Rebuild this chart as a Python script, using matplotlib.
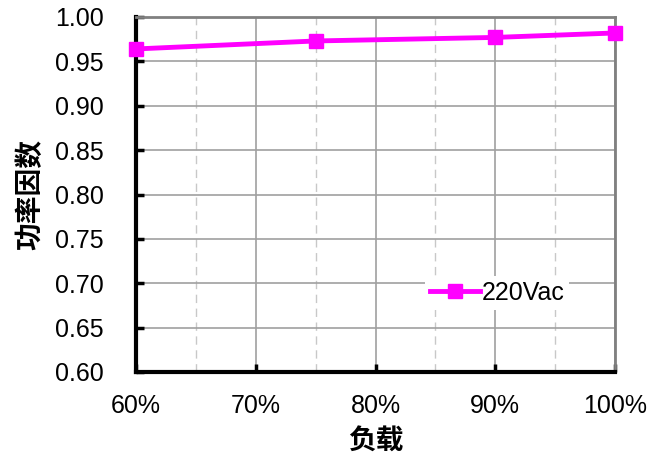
import matplotlib
matplotlib.use("Agg")
import matplotlib.pyplot as plt
from matplotlib.ticker import MultipleLocator, FuncFormatter

load = [60, 75, 90, 100]
pf_220 = [0.964, 0.973, 0.977, 0.982]
series_name = "220Vac"

plt.rcParams['font.family'] = ['Liberation Sans', 'Noto Sans CJK SC', 'DejaVu Sans']

fig = plt.figure(figsize=(6.49, 4.63), dpi=100)
ax = fig.add_axes([136/649, 1-372/463, (615-136)/649, (372-17)/463])

ax.plot(load, pf_220, color='#ff00ff', lw=3.5, marker='s', ms=10, label=series_name, clip_on=False, zorder=5)

ax.set_xlim(60, 100)
ax.set_ylim(0.60, 1.00)
ax.xaxis.set_major_locator(MultipleLocator(10))
ax.xaxis.set_minor_locator(MultipleLocator(5))
ax.yaxis.set_major_locator(MultipleLocator(0.05))
ax.xaxis.set_major_formatter(FuncFormatter(lambda v, p: f"{v:.0f}%"))
ax.yaxis.set_major_formatter(FuncFormatter(lambda v, p: f"{v:.2f}"))

ax.grid(which='major', color='#a0a0a0', lw=1.2)
ax.grid(which='minor', axis='x', color='#c8c8c8', lw=1, ls=(0, (6, 4)))
ax.set_axisbelow(True)

ax.tick_params(which='major', direction='in', length=6, width=2.5, labelsize=18, color='black')
ax.tick_params(axis='x', pad=16)
ax.tick_params(axis='y', pad=23)
ax.tick_params(which='minor', length=0)

for s in ['left', 'bottom']:
    ax.spines[s].set_linewidth(3)
    ax.spines[s].set_color('black')
for s in ['top', 'right']:
    ax.spines[s].set_linewidth(2)
    ax.spines[s].set_color('#808080')

ax.set_xlabel("负载", family=['Noto Sans CJK SC'], fontweight='bold', fontsize=20, labelpad=7)
ax.set_ylabel("功率因数", family=['Noto Sans CJK SC'], fontweight='bold', fontsize=20, labelpad=8)

leg = ax.legend(loc='upper left', bbox_to_anchor=(0.578, 0.305), frameon=True, fontsize=18,
                handlelength=2.0, handletextpad=0.05, borderpad=0.2)
leg.get_frame().set_edgecolor('none')
leg.get_frame().set_facecolor('white')
leg.get_frame().set_alpha(1)

fig.savefig("out.png", dpi=100)
